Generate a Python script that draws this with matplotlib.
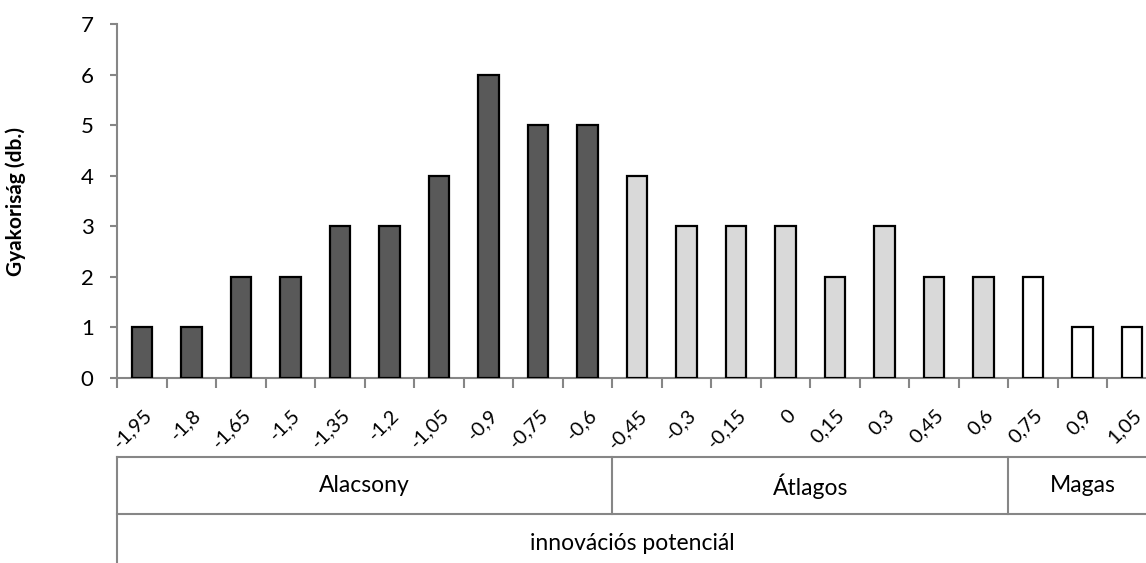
import matplotlib.pyplot as plt
import matplotlib.transforms as mtransforms

plt.rcParams['font.family'] = ['Lato', 'DejaVu Sans']

labels = ['-1,95', '-1,8', '-1,65', '-1,5', '-1,35', '-1,2', '-1,05', '-0,9', '-0,75', '-0,6',
          '-0,45', '-0,3', '-0,15', '0', '0,15', '0,3', '0,45', '0,6',
          '0,75', '0,9', '1,05']
values = [1, 1, 2, 2, 3, 3, 4, 6, 5, 5,
          4, 3, 3, 3, 2, 3, 2, 2,
          2, 1, 1]
groups = ['Alacsony', 'Átlagos', 'Magas']
group_sizes = [10, 8, 3]
group_colors = ['#595959', '#d9d9d9', '#ffffff']
axis_title = 'innovációs potenciál'
ylabel = 'Gyakoriság (db.)'

W, H = 1146, 563
fig = plt.figure(figsize=(W / 100, H / 100), dpi=100)
x0, x1 = 117.3, 117.3 + 21 * 49.5
y0, y7 = 377.7, 24.3
ax = fig.add_axes([x0 / W, 1 - y0 / H, (x1 - x0) / W, (y0 - y7) / H])

colors = []
for c, n in zip(group_colors, group_sizes):
    colors += [c] * n
xs = [i + 0.5 for i in range(len(values))]
ax.bar(xs, values, width=0.41, color=colors, edgecolor='black', linewidth=1.6, zorder=3)

ax.set_xlim(0, len(values))
ax.set_ylim(0, 7)
ax.set_yticks(range(8))
ax.set_xticks(range(len(values) + 1))
ax.set_xticklabels([])
gray = '#868686'
for s in ['top', 'right']:
    ax.spines[s].set_visible(False)
for s in ['left', 'bottom']:
    ax.spines[s].set_color(gray)
    ax.spines[s].set_linewidth(1.5)
ax.tick_params(axis='y', length=5, width=1.5, color=gray, labelsize=16, pad=12)
ax.tick_params(axis='x', length=7, width=1.5, color=gray)
ax.set_ylabel(ylabel, fontsize=15, fontweight='bold')
ax.yaxis.set_label_coords(-0.088, 0.5)

for x, lab in zip(xs, labels):
    ax.annotate(lab, xy=(x, 0), xycoords=('data', 'axes fraction'),
                xytext=(5, -25), textcoords='offset points',
                ha='right', va='center', rotation=45, rotation_mode='anchor',
                fontsize=14.5)

# category table below the axis
bt = mtransforms.blended_transform_factory(ax.transData, fig.transFigure)
ytop, ymid = 1 - 457 / H, 1 - 514 / H
n = len(values)
for yy in (ytop, ymid):
    ax.plot([0, n], [yy, yy], transform=bt, color=gray, lw=1.5, clip_on=False)
ax.plot([0, 0], [0, ytop], transform=bt, color=gray, lw=1.5, clip_on=False)
start = 0
for g, sz in zip(groups, group_sizes):
    end = start + sz
    if end < n:
        ax.plot([end, end], [ymid, ytop], transform=bt, color=gray, lw=1.5, clip_on=False)
    ax.text((start + end) / 2, 1 - 486 / H, g, transform=bt, ha='center', va='center', fontsize=16.5)
    start = end
ax.text(632 / W, 1 - 543 / H, axis_title, transform=fig.transFigure,
        ha='center', va='center', fontsize=16.5)

fig.savefig('out.png', dpi=100)
